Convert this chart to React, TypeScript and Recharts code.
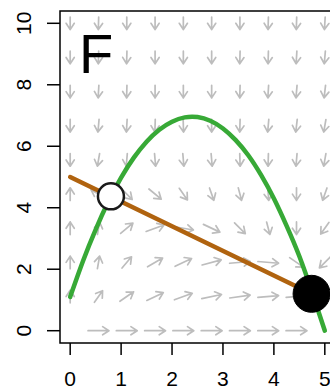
import React from 'react';
import { ComposedChart, Line, XAxis, YAxis, ReferenceLine, ReferenceDot, ReferenceArea } from 'recharts';

const FONT = '"Liberation Sans", Arial, sans-serif';

const xTicks = [0, 1, 2, 3, 4, 5];
const yTicks = [0, 2, 4, 6, 8, 10];

// green isocline
const greenX = [0, 0.25, 0.5, 0.75, 1, 1.25, 1.5, 1.75, 2, 2.25, 2.5, 2.75, 3, 3.25, 3.5, 3.75, 4, 4.25, 4.5, 4.75, 5];
const greenY = [1.1, 2.26, 3.29, 4.2, 4.98, 5.63, 6.15, 6.54, 6.8, 6.94, 6.95, 6.83, 6.58, 6.2, 5.7, 5.06, 4.3, 3.41, 2.42, 1.25, 0];

// brown isocline
const brownX = [0, 4.74];
const brownY = [5, 1.2];

// equilibria
const openPt = { x: 0.8, y: 4.37 };
const closedPt = { x: 4.74, y: 1.2 };

// flow field grid
const gridX = [0, 0.556, 1.111, 1.667, 2.222, 2.778, 3.333, 3.889, 4.444, 5];
const gridY = [0, 1.111, 2.222, 3.333, 4.444, 5.556, 6.667, 7.778, 8.889, 10];
// arrow direction in degrees (data space), one row per gridY, null = no arrow
const arrowDeg: (number | null)[][] = [
  [null, 0, 0, 0, 0, 0, 0, 0, 0, null],
  [90, 67, 49, 38, 31, 19, 13, 8, 8, 180],
  [90, 84, 63, 44, 38, 24, 8, -8, -49, -121],
  [90, 84, 54, 31, -16, -38, -59, -81, -90, -113],
  [90, 136, -59, -54, -67, -78, -81, -87, -90, -102],
  [-90, -96, -93, -87, -87, -87, -89, -91, -93, -96],
  [-90, -93, -92, -91, -89, -90, -91, -93, -94, -96],
  [-90, -92, -91, -90, -90, -90, -91, -92, -93, -94],
  [-90, -91, -91, -90, -90, -90, -91, -91, -92, -93],
  [-90, -91, -90, -90, -90, -90, -90, -91, -91, -92],
];
const ARROW_LEN = 0.41;

const greenData = greenX.map((x, i) => ({ x, y: greenY[i] }));
const brownData = brownX.map((x, i) => ({ x, y: brownY[i] }));

const arrows: { key: string; seg: { x: number; y: number }[] }[] = [];
arrowDeg.forEach((row, j) =>
  row.forEach((deg, i) => {
    if (deg === null) return;
    const t = (deg * Math.PI) / 180;
    const dx = (ARROW_LEN / 2) * Math.cos(t);
    const dy = (ARROW_LEN / 2) * Math.sin(t);
    arrows.push({
      key: `a${i}-${j}`,
      seg: [
        { x: gridX[i] - dx, y: gridY[j] - dy },
        { x: gridX[i] + dx, y: gridY[j] + dy },
      ],
    });
  })
);

function ArrowShape(props: any) {
  const { x1, y1, x2, y2 } = props;
  const a = Math.atan2(y2 - y1, x2 - x1);
  const h = 7.5;
  const s = (33 * Math.PI) / 180;
  const ax = x2 - h * Math.cos(a - s);
  const ay = y2 - h * Math.sin(a - s);
  const bx = x2 - h * Math.cos(a + s);
  const by = y2 - h * Math.sin(a + s);
  return (
    <path
      d={`M${x1},${y1}L${x2},${y2}M${ax},${ay}L${x2},${y2}L${bx},${by}`}
      stroke="#bdbdbd" strokeWidth={1.7} fill="none" strokeLinecap="round" strokeLinejoin="round"
    />
  );
}

function XTick({ x, y, payload }: any) {
  return (
    <text x={x} y={y} dy={10} textAnchor="middle" fontSize={21} fontFamily={FONT} fill="#000">
      {payload.value}
    </text>
  );
}

function YTick({ x, y, payload }: any) {
  return (
    <text x={x} y={y} transform={`rotate(-90 ${x} ${y})`} textAnchor="middle" fontSize={21} fontFamily={FONT} fill="#000">
      {payload.value}
    </text>
  );
}

export default function App() {
  return (
    <div style={{ position: 'absolute', left: 0, top: 0, width: 330, height: 391, overflow: 'hidden', background: '#fff' }}>
      <ComposedChart width={345} height={391} margin={{ top: 11, right: 10, left: 0, bottom: 0 }}>
        <XAxis
          type="number" dataKey="x" domain={[-0.2, 5.2]} ticks={xTicks} allowDataOverflow
          height={48} axisLine={false} tickSize={12} tickMargin={21}
          tickLine={{ stroke: '#000', strokeWidth: 1.5 }} tick={<XTick />}
        />
        <YAxis
          type="number" dataKey="y" domain={[-0.4, 10.4]} ticks={yTicks} allowDataOverflow
          width={60} axisLine={false} tickSize={13} tickMargin={16}
          tickLine={{ stroke: '#000', strokeWidth: 1.5 }} tick={<YTick />}
        />
        {arrows.map((a) => (
          <ReferenceLine key={a.key} segment={a.seg} ifOverflow="hidden" shape={ArrowShape} />
        ))}
        <ReferenceArea
          x1={-0.2} x2={5.2} y1={-0.4} y2={10.4} ifOverflow="visible"
          fill="none" fillOpacity={0} stroke="#000" strokeWidth={1.5}
        />
        <Line
          data={greenData} dataKey="y" type="natural" stroke="#37a936" strokeWidth={4.5}
          dot={false} strokeLinecap="round" isAnimationActive={false}
        />
        <Line
          data={brownData} dataKey="y" type="linear" stroke="#b0630f" strokeWidth={4.5}
          dot={false} strokeLinecap="round" isAnimationActive={false}
        />
        <ReferenceDot x={openPt.x} y={openPt.y} r={13} fill="#fff" stroke="#1a1a1a" strokeWidth={2.5} />
        <ReferenceDot x={closedPt.x} y={closedPt.y} r={18.5} fill="#000" stroke="#000" strokeWidth={1} />
      </ComposedChart>
      <svg width={330} height={391} style={{ position: 'absolute', left: 0, top: 0, pointerEvents: 'none' }}>
        <text x={79} y={73} fontSize={56} fontFamily={FONT} fill="#000">F</text>
      </svg>
    </div>
  );
}
